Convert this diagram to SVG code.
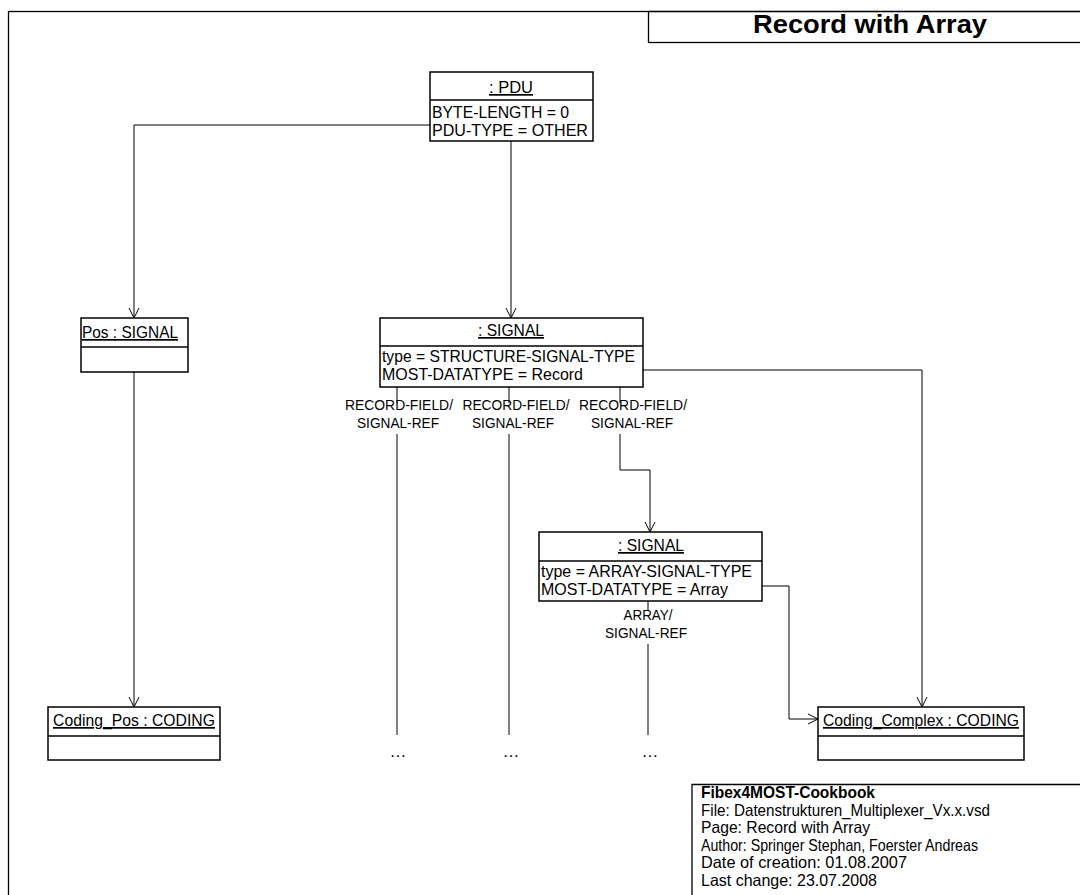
<svg xmlns="http://www.w3.org/2000/svg" width="1080" height="895" viewBox="0 0 1080 895">
  <style>
    .frame { fill: none; stroke: #000; stroke-width: 1.3; }
    .box { fill: #fff; stroke: #000; stroke-width: 1.5; }
    .sep { stroke: #000; stroke-width: 1.5; }
    .conn { fill: none; stroke: #000; stroke-width: 1; }
    text { font-family: "Liberation Sans", Arial, sans-serif; fill: #000; }
    .t { font-size: 17px; }
    .name { font-size: 17px; text-anchor: middle; text-decoration: underline; }
    .lbl { font-size: 15px; text-anchor: middle; }
    .dots { font-size: 17px; text-anchor: middle; }
    .foot { font-size: 16.5px; }
    .title { font-size: 26px; font-weight: bold; text-anchor: middle; }
  </style>
  <defs>
    <marker id="arrow" viewBox="0 0 12 12" refX="11" refY="6" markerWidth="12" markerHeight="12" markerUnits="userSpaceOnUse" orient="auto">
      <path d="M1,1 L11,6 L1,11" fill="none" stroke="#000" stroke-width="1"/>
    </marker>
  </defs>

  <!-- page frame and title block -->
  <g id="frame">
    <rect class="frame" x="8.5" y="11.5" width="1090" height="900"/>
    <rect class="frame" x="648.5" y="11.5" width="440" height="31"/>
    <text class="title" x="870" y="33" textLength="234" lengthAdjust="spacingAndGlyphs">Record with Array</text>
  </g>

  <!-- connectors -->
  <g id="connectors">
    <polyline class="conn" points="430,125 134,125 134,318" marker-end="url(#arrow)"/>
    <line class="conn" x1="511" y1="141" x2="511" y2="318" marker-end="url(#arrow)"/>
    <line class="conn" x1="134" y1="372" x2="134" y2="707" marker-end="url(#arrow)"/>
    <polyline class="conn" points="643,370 922,370 922,707" marker-end="url(#arrow)"/>

    <line class="conn" x1="397" y1="387" x2="397" y2="403"/>
    <line class="conn" x1="397" y1="434" x2="397" y2="735"/>
    <line class="conn" x1="509" y1="387" x2="509" y2="403"/>
    <line class="conn" x1="509" y1="434" x2="509" y2="735"/>
    <line class="conn" x1="620" y1="387" x2="620" y2="403"/>
    <polyline class="conn" points="620,434 620,470 650,470 650,532" marker-end="url(#arrow)"/>

    <polyline class="conn" points="762,586 789,586 789,719 818,719" marker-end="url(#arrow)"/>
    <line class="conn" x1="648" y1="601" x2="648" y2="611"/>
    <line class="conn" x1="648" y1="644" x2="648" y2="735"/>

    <text class="lbl" x="399" y="410" textLength="108" lengthAdjust="spacingAndGlyphs">RECORD-FIELD/</text>
    <text class="lbl" x="398" y="428" textLength="82" lengthAdjust="spacingAndGlyphs">SIGNAL-REF</text>
    <text class="lbl" x="516" y="410" textLength="107" lengthAdjust="spacingAndGlyphs">RECORD-FIELD/</text>
    <text class="lbl" x="513" y="428" textLength="82" lengthAdjust="spacingAndGlyphs">SIGNAL-REF</text>
    <text class="lbl" x="633" y="410" textLength="108" lengthAdjust="spacingAndGlyphs">RECORD-FIELD/</text>
    <text class="lbl" x="632" y="428" textLength="82" lengthAdjust="spacingAndGlyphs">SIGNAL-REF</text>
    <text class="lbl" x="648" y="620" textLength="49" lengthAdjust="spacingAndGlyphs">ARRAY/</text>
    <text class="lbl" x="646" y="638" textLength="82" lengthAdjust="spacingAndGlyphs">SIGNAL-REF</text>

    <text class="dots" x="398" y="757">…</text>
    <text class="dots" x="511" y="757">…</text>
    <text class="dots" x="650" y="757">…</text>
  </g>

  <!-- PDU -->
  <g id="pdu">
    <rect class="box" x="430" y="72" width="163" height="69"/>
    <line class="sep" x1="430" y1="100" x2="593" y2="100"/>
    <text class="name" x="511" y="93" textLength="44" lengthAdjust="spacingAndGlyphs">: PDU</text>
    <text class="t" x="432" y="118" textLength="137" lengthAdjust="spacingAndGlyphs">BYTE-LENGTH = 0</text>
    <text class="t" x="432" y="136" textLength="156" lengthAdjust="spacingAndGlyphs">PDU-TYPE = OTHER</text>
  </g>

  <!-- Pos : SIGNAL -->
  <g id="pos-signal">
    <rect class="box" x="81" y="318" width="107" height="54"/>
    <line class="sep" x1="81" y1="347" x2="188" y2="347"/>
    <text class="name" x="130" y="338" textLength="96" lengthAdjust="spacingAndGlyphs">Pos : SIGNAL</text>
  </g>

  <!-- structure SIGNAL -->
  <g id="record-signal">
    <rect class="box" x="380" y="318" width="263" height="69"/>
    <line class="sep" x1="380" y1="346" x2="643" y2="346"/>
    <text class="name" x="511" y="336" textLength="66" lengthAdjust="spacingAndGlyphs">: SIGNAL</text>
    <text class="t" x="382" y="362" textLength="253" lengthAdjust="spacingAndGlyphs">type = STRUCTURE-SIGNAL-TYPE</text>
    <text class="t" x="382" y="380" textLength="201" lengthAdjust="spacingAndGlyphs">MOST-DATATYPE = Record</text>
  </g>

  <!-- array SIGNAL -->
  <g id="array-signal">
    <rect class="box" x="539" y="532" width="223" height="69"/>
    <line class="sep" x1="539" y1="561" x2="762" y2="561"/>
    <text class="name" x="651" y="551" textLength="66" lengthAdjust="spacingAndGlyphs">: SIGNAL</text>
    <text class="t" x="541" y="577" textLength="211" lengthAdjust="spacingAndGlyphs">type = ARRAY-SIGNAL-TYPE</text>
    <text class="t" x="541" y="595" textLength="187" lengthAdjust="spacingAndGlyphs">MOST-DATATYPE = Array</text>
  </g>

  <!-- Coding_Pos : CODING -->
  <g id="coding-pos">
    <rect class="box" x="48" y="707" width="172" height="53"/>
    <line class="sep" x1="48" y1="736" x2="220" y2="736"/>
    <text class="name" x="134" y="726" textLength="162" lengthAdjust="spacingAndGlyphs">Coding_Pos : CODING</text>
  </g>

  <!-- Coding_Complex : CODING -->
  <g id="coding-complex">
    <rect class="box" x="818" y="707" width="206" height="53"/>
    <line class="sep" x1="818" y1="736" x2="1024" y2="736"/>
    <text class="name" x="921" y="726" textLength="196" lengthAdjust="spacingAndGlyphs">Coding_Complex : CODING</text>
  </g>

  <!-- document info block -->
  <g id="footer">
    <polyline class="frame" points="692,900 692,784.5 1090,784.5"/>
    <text class="foot" x="701" y="798" font-weight="bold" textLength="174" lengthAdjust="spacingAndGlyphs">Fibex4MOST-Cookbook</text>
    <text class="foot" x="701" y="815.5" textLength="289" lengthAdjust="spacingAndGlyphs">File: Datenstrukturen_Multiplexer_Vx.x.vsd</text>
    <text class="foot" x="701" y="833" textLength="169" lengthAdjust="spacingAndGlyphs">Page: Record with Array</text>
    <text class="foot" x="701" y="850.5" textLength="277" lengthAdjust="spacingAndGlyphs">Author: Springer Stephan, Foerster Andreas</text>
    <text class="foot" x="701" y="868" textLength="206" lengthAdjust="spacingAndGlyphs">Date of creation: 01.08.2007</text>
    <text class="foot" x="701" y="885.5" textLength="176" lengthAdjust="spacingAndGlyphs">Last change: 23.07.2008</text>
  </g>
</svg>
